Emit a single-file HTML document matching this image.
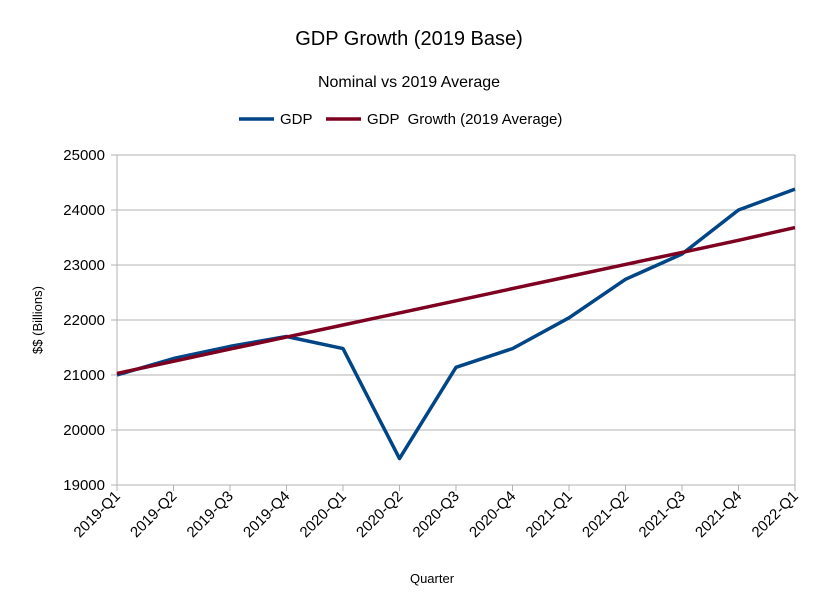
<!DOCTYPE html>
<html>
<head>
<meta charset="utf-8">
<style>
html,body{margin:0;padding:0;background:#fff;}
svg{display:block;font-family:"Liberation Sans",sans-serif;}
</style>
</head>
<body>
<svg id="chart" width="819" height="611" viewBox="0 0 819 611">
  <text x="409" y="45" text-anchor="middle" font-size="20">GDP Growth (2019 Base)</text>
  <text x="409" y="87" text-anchor="middle" font-size="16">Nominal vs 2019 Average</text>
  <g>
    <line x1="239" y1="119" x2="274" y2="119" stroke="#004586" stroke-width="3.5"/>
    <text x="280" y="124" font-size="15">GDP</text>
    <line x1="326" y1="119" x2="361" y2="119" stroke="#7e0021" stroke-width="3.5"/>
    <text x="367" y="124" font-size="15" style="white-space:pre">GDP  Growth (2019 Average)</text>
  </g>
  <g id="grid"></g>
  <g id="series"></g>
  <g id="axes"></g>
  <text transform="translate(42,320) rotate(-90)" text-anchor="middle" font-size="13">$$ (Billions)</text>
  <text x="432" y="583" text-anchor="middle" font-size="13">Quarter</text>
</svg>
<script>
const categories = ["2019-Q1","2019-Q2","2019-Q3","2019-Q4","2020-Q1","2020-Q2","2020-Q3","2020-Q4","2021-Q1","2021-Q2","2021-Q3","2021-Q4","2022-Q1"];
const gdpValues = [21000,21300,21520,21700,21480,19480,21140,21480,22040,22740,23200,24000,24380];
const growthValues = [21030,21250,21470,21690,21910,22130,22350,22570,22790,23010,23230,23450,23680];
const yTicks = [19000,20000,21000,22000,23000,24000,25000];

const NS = "http://www.w3.org/2000/svg";
const L = 117, R = 795, T = 155, B = 485, yMin = 19000, yMax = 25000;
function xScale(i){ return L + (R - L) * i / (categories.length - 1); }
function yScale(v){ return B - (v - yMin) / (yMax - yMin) * (B - T); }
function mk(tag, attrs, parent){ const e = document.createElementNS(NS, tag); for (const k in attrs) e.setAttribute(k, attrs[k]); parent.appendChild(e); return e; }

const grid = document.getElementById("grid");
const axes = document.getElementById("axes");
const series = document.getElementById("series");

yTicks.forEach(v => {
  const y = yScale(v);
  const gl = mk("line", {x1:L-6, x2:R, y1:y, y2:y, stroke:"#b3b3b3", "stroke-width":1}, grid);
  
  
  const t = mk("text", {x:105, y:y+5, "text-anchor":"end", "font-size":15}, axes);
  t.textContent = v;
  
  
});
const rv = mk("line", {x1:R, x2:R, y1:T, y2:B, stroke:"#b3b3b3", "stroke-width":1}, grid);


const lv = mk("line", {x1:L, x2:L, y1:T, y2:B, stroke:"#b3b3b3", "stroke-width":1}, grid);



categories.forEach((c, i) => {
  const x = xScale(i);
  const tk = mk("line", {x1:x, x2:x, y1:B, y2:B+6, stroke:"#b3b3b3", "stroke-width":1}, axes);
  
  
  const t = mk("text", {x:0, y:0, "text-anchor":"end", "font-size":15, transform:`translate(${x+4},${B+12}) rotate(-45)`}, axes);
  t.textContent = c;
  
  
});

function drawLine(vals, color, name){
  const pts = vals.map((v, i) => xScale(i).toFixed(1) + "," + yScale(v).toFixed(1)).join(" ");
  const p = mk("polyline", {points:pts, fill:"none", stroke:color, "stroke-width":3.5, "stroke-linejoin":"round"}, series);
  
  
}
drawLine(gdpValues, "#004586", "gdp-line");
drawLine(growthValues, "#7e0021", "growth-line");
</script>
</body>
</html>
